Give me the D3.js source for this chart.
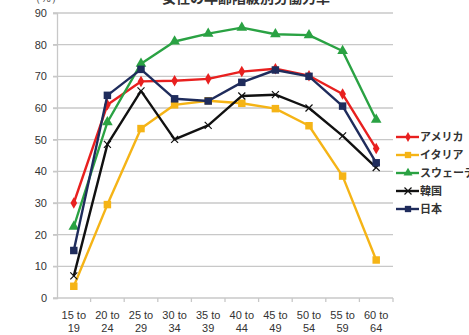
<!DOCTYPE html>
<html>
<head>
<meta charset="utf-8">
<script src="https://cdn.jsdelivr.net/npm/d3@7"></script>
<style>
  html, body { margin: 0; padding: 0; background: #fff; }
  svg { display: block; font-family: "Liberation Sans", Arial, sans-serif; }
</style>
</head>
<body>
<svg id="chart" width="469" height="335"></svg>
<script>
// Female labour force participation rate by age group (%)
const ageGroups = ["15 to|19", "20 to|24", "25 to|29", "30 to|34", "35 to|39",
                   "40 to|44", "45 to|49", "50 to|54", "55 to|59", "60 to|64"];
const yTicks = [0, 10, 20, 30, 40, 50, 60, 70, 80, 90];

const america = [30, 61, 68.4, 68.6, 69.2, 71.5, 72.4, 70.2, 64.4, 47.2];
const italy   = [3.7, 29.5, 53.5, 61, 62.3, 61.5, 59.8, 54.4, 38.5, 12];
const sweden  = [22.5, 55.5, 74, 81, 83.5, 85.4, 83.3, 83, 78, 56.3];
const korea   = [7, 48.5, 65.4, 50.1, 54.5, 63.8, 64.2, 60, 51.2, 41.2];
const japan   = [15, 64, 72.2, 62.9, 62.2, 68.1, 72, 70, 60.6, 42.7];

const series = [
  { name: "アメリカ",     values: america, color: "#e8201f", marker: "diamond" },
  { name: "イタリア",     values: italy,   color: "#f5b416", marker: "square" },
  { name: "スウェーデン", values: sweden,  color: "#2aa243", marker: "triangle" },
  { name: "韓国",         values: korea,   color: "#111111", marker: "cross" },
  { name: "日本",         values: japan,   color: "#1f2c5c", marker: "square" }
];

const svg = d3.select("#chart");
const plotLeft = 57, plotRight = 393, plotTop = 13, plotBottom = 298;

const x = d3.scaleBand().domain(ageGroups).range([plotLeft, plotRight]);
const y = d3.scaleLinear().domain([0, 90]).range([plotBottom, plotTop]);

// Title and unit (partly above the visible area)
svg.append("text").attr("x", 246).attr("y", 2.5)
  .attr("text-anchor", "middle").attr("font-size", 14).attr("font-weight", "bold")
  .attr("fill", "#333").attr("font-family", "Noto Sans CJK JP, sans-serif")
  .text("女性の年齢階級別労働力率");
svg.append("text").attr("x", 30).attr("y", 2)
  .attr("font-size", 11).attr("fill", "#555").text("（%）");

// Horizontal gridlines
svg.append("g").selectAll("line").data(yTicks.filter(d => d > 0)).join("line")
  .attr("x1", plotLeft - 4).attr("x2", plotRight)
  .attr("y1", d => y(d)).attr("y2", d => y(d))
  .attr("stroke", "#c8c8c8").attr("stroke-width", 1.3);

// Y axis
const yAxis = svg.append("g").attr("transform", `translate(${plotLeft},0)`)
  .call(d3.axisLeft(y).tickValues(yTicks).tickSize(4).tickPadding(6));
yAxis.select(".domain").attr("stroke", "#c8c8c8").attr("stroke-width", 1.3);
yAxis.selectAll(".tick line").attr("stroke", "#c8c8c8").attr("stroke-width", 1.3);
yAxis.selectAll("text").attr("font-size", 11).attr("fill", "#333")
  .attr("font-family", "Liberation Sans, Arial, sans-serif");

// X axis with ticks at band boundaries
const xg = svg.append("g").attr("transform", `translate(0,${plotBottom})`);
xg.append("line").attr("x1", plotLeft - 4).attr("x2", plotRight)
  .attr("stroke", "#c8c8c8").attr("stroke-width", 1.3);
xg.selectAll("line.tk").data(ageGroups).join("line").attr("class", "tk")
  .attr("x1", d => x(d) + x.bandwidth()).attr("x2", d => x(d) + x.bandwidth())
  .attr("y1", 0).attr("y2", 4).attr("stroke", "#c8c8c8").attr("stroke-width", 1.3);
const xl = xg.selectAll("text").data(ageGroups).join("text")
  .attr("text-anchor", "middle").attr("font-size", 11).attr("fill", "#333")
  .attr("transform", d => `translate(${x(d) + x.bandwidth() / 2},0)`);
xl.append("tspan").attr("x", 0).attr("y", 21).text(d => d.split("|")[0]);
xl.append("tspan").attr("x", 0).attr("y", 34).text(d => d.split("|")[1]);

// Marker shapes
function markerPath(type, s) {
  if (type === "diamond") return d3.symbol(d3.symbolDiamond, s * 5.5)();
  if (type === "square") return d3.symbol(d3.symbolSquare, s * 8)();
  if (type === "triangle") return d3.symbol(d3.symbolTriangle, s * 7)();
  return null;
}
function drawMarker(g, type, color, cx, cy, s) {
  if (type === "cross") {
    const r = 3.5;
    g.append("path").attr("d", `M${cx - r},${cy - r}L${cx + r},${cy + r}M${cx - r},${cy + r}L${cx + r},${cy - r}`)
      .attr("stroke", color).attr("stroke-width", 1.2).attr("fill", "none");
  } else {
    g.append("path").attr("d", markerPath(type, s))
      .attr("transform", `translate(${cx},${cy})`).attr("fill", color);
  }
}

const line = d3.line()
  .x((d, i) => x(ageGroups[i]) + x.bandwidth() / 2)
  .y(d => y(d));

series.forEach(s => {
  const g = svg.append("g");
  g.append("path").datum(s.values).attr("d", line)
    .attr("fill", "none").attr("stroke", s.color).attr("stroke-width", 2.4)
    .attr("stroke-linejoin", "round");
  s.values.forEach((v, i) => {
    drawMarker(g, s.marker, s.color, x(ageGroups[i]) + x.bandwidth() / 2, y(v), 7);
  });
});

// Legend
const lg = svg.append("g");
series.forEach((s, i) => {
  const ly = 137 + i * 18;
  lg.append("line").attr("x1", 396).attr("x2", 419).attr("y1", ly).attr("y2", ly)
    .attr("stroke", s.color).attr("stroke-width", 2.4);
  drawMarker(lg, s.marker, s.color, 408, ly, 5);
  lg.append("text").attr("x", 420).attr("y", ly + 4)
    .attr("font-size", 11).attr("font-weight", "bold").attr("fill", "#333")
    .attr("font-family", "Noto Sans CJK JP, sans-serif").text(s.name);
});
</script>
</body>
</html>
